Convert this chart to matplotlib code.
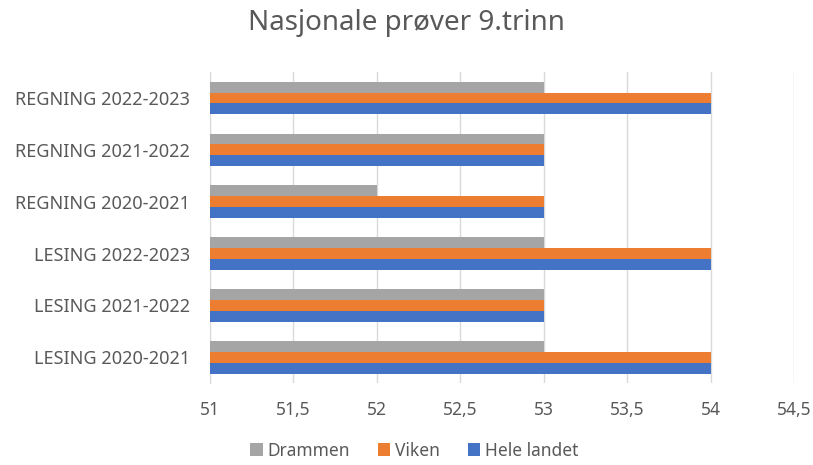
import numpy as np
from matplotlib import pyplot as plt

categories = ['LESING 2020-2021', 'LESING 2021-2022', 'LESING 2022-2023',
              'REGNING 2020-2021', 'REGNING 2021-2022', 'REGNING 2022-2023']
drammen = [53, 53, 53, 52, 53, 53]
viken = [54, 53, 54, 53, 53, 54]
hele_landet = [54, 53, 54, 53, 53, 54]
xticks = [51, 51.5, 52, 52.5, 53, 53.5, 54, 54.5]

plt.rcParams['font.family'] = ['Noto Sans', 'DejaVu Sans']
text_color = '#595959'

fig = plt.figure(figsize=(8.13, 4.65), dpi=100)
ax = fig.add_axes([0.258, 0.176, 0.719, 0.669])

y = np.arange(len(categories))
h = 0.21
# excel draws first series on top within each group
ax.barh(y + h, drammen, height=h, color='#A5A5A5', label='Drammen', zorder=3)
ax.barh(y, viken, height=h, color='#ED7D31', label='Viken', zorder=3)
ax.barh(y - h, hele_landet, height=h, color='#4472C4', label='Hele landet', zorder=3)

ax.set_xlim(51, 54.5)
ax.set_ylim(-0.5, 5.5)
ax.set_xticks(xticks)
ax.set_xticklabels([str(t).replace('.', ',') if t % 1 else str(int(t)) for t in xticks])
ax.set_yticks(y)
ax.set_yticklabels(categories)

ax.grid(axis='x', color='#D9D9D9', linewidth=1, zorder=0)
for s in ['top', 'right', 'bottom']:
    ax.spines[s].set_visible(False)
ax.spines['left'].set_color('#D9D9D9')
ax.tick_params(axis='y', length=0, pad=14, labelsize=13, labelcolor=text_color)
ax.tick_params(axis='x', length=0, pad=13, labelsize=12.5, labelcolor=text_color)

fig.suptitle('Nasjonale prøver 9.trinn', y=0.98, fontsize=20, color=text_color)

handles, labels = ax.get_legend_handles_labels()
fig.legend(handles, labels, loc='lower center', ncol=3, frameon=False,
           bbox_to_anchor=(0.51, -0.022), fontsize=12.5, labelcolor=text_color,
           handlelength=0.7, handleheight=0.7, handletextpad=0.3, columnspacing=1.6)

plt.savefig('out.png', dpi=100)
